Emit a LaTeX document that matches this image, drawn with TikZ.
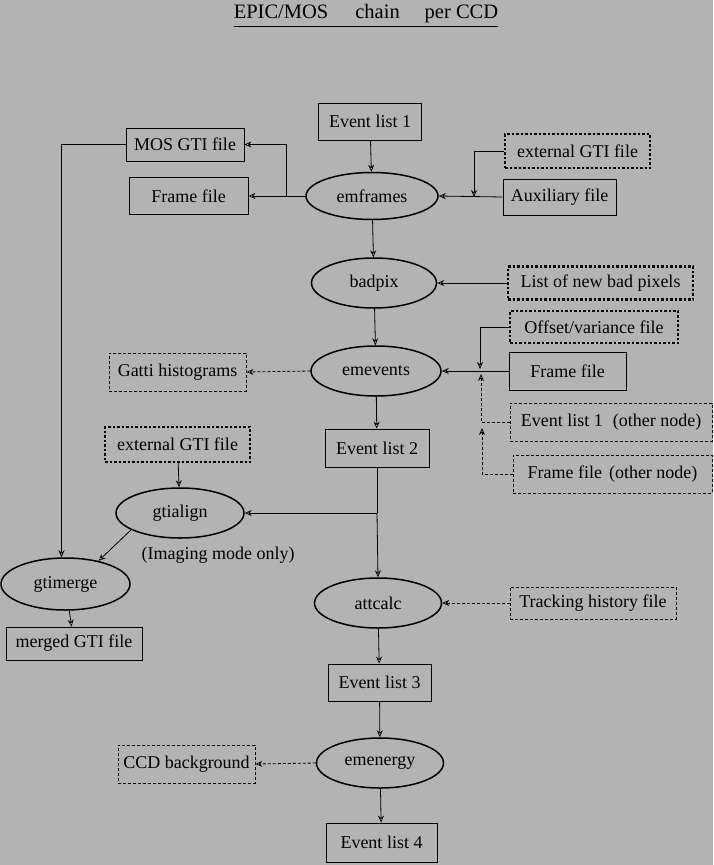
\documentclass[tikz,border=0pt]{standalone}
\usepackage{fontspec}
\setmainfont{Liberation Serif}
\usepackage{xcolor}
\usetikzlibrary{shapes.geometric,arrows.meta}
\definecolor{bggray}{RGB}{179,179,179}

\begin{document}
\begin{tikzpicture}[x=1pt,y=-1pt,
    every node/.style={font=\fontsize{18}{20}\selectfont},
    box/.style={draw,rectangle,line width=0.8pt,inner sep=0pt},
    dotbox/.style={box,line width=2.5pt,dash pattern=on 2.5pt off 2pt},
    dashbox/.style={box,dash pattern=on 3pt off 2pt},
    proc/.style={draw,ellipse,line width=1.5pt,inner sep=0pt},
    arr/.style={line width=0.8pt,-{Stealth[fill=white,length=7pt,width=6pt]}},
    darr/.style={arr,dash pattern=on 3pt off 2pt}]
        % background and frame of the page
        \fill[bggray] (0,0) rectangle (713,865);
        \useasboundingbox (0,0) rectangle (713,865);
    % title
    \node[inner sep=0pt,font=\fontsize{20.5}{22}\selectfont] (title) at (366,14) {EPIC/MOS\hspace{27pt}chain\hspace{25pt}per CCD};
    \draw[line width=0.8pt] ([yshift=-3pt]title.south west) -- ([yshift=-3pt]title.south east);
    % main column
    \node[box,minimum width=103,minimum height=37] (ev1) at (370,121.5) {Event list 1};
    \node[proc,minimum width=132,minimum height=47] (emframes) at (372,196) {emframes};
    \node[proc,minimum width=125,minimum height=50] (badpix) at (374,283) {badpix};
    \node[proc,minimum width=130,minimum height=50] (emevents) at (376,371) {emevents};
    \node[box,minimum width=104,minimum height=38] (ev2) at (377,448) {Event list 2};
    \node[proc,minimum width=127,minimum height=50] (attcalc) at (378,603) {attcalc};
    \node[box,minimum width=103,minimum height=37] (ev3) at (379.5,682.5) {Event list 3};
    \node[proc,minimum width=127,minimum height=50] (emenergy) at (380,763) {emenergy};
    \node[box,minimum width=111,minimum height=39] (ev4) at (381.5,842.5) {Event list 4};
    % left side
    \node[box,minimum width=118,minimum height=33] (mosgti) at (185,144.5) {MOS GTI file};
    \node[box,minimum width=119,minimum height=37] (frame) at (188.5,196) {Frame file};
    \node[dashbox,minimum width=137,minimum height=38] (gatti) at (177.5,372) {Gatti histograms};
    \node[dotbox,minimum width=145,minimum height=35] (extgtil) at (177.5,444.5) {external GTI file};
    \node[proc,minimum width=128,minimum height=50] (gtialign) at (180,513) {gtialign};
    \node (imaging) at (218,555) {(Imaging mode only)};
    \node[proc,minimum width=129,minimum height=52] (gtimerge) at (65.5,584) {gtimerge};
    \node[box,minimum width=136,minimum height=33] (mergedgti) at (74,643.5) {merged GTI file};
    \node[dashbox,minimum width=137,minimum height=38] (ccdbkg) at (186.5,764) {CCD background};
    % right side
    \node[dotbox,minimum width=145,minimum height=34] (extgti) at (577.5,151) {external GTI file};
    \node[box,minimum width=113,minimum height=36] (aux) at (559.5,197) {Auxiliary file};
    \node[dotbox,minimum width=185,minimum height=33] (badlist) at (600.5,283) {List of new bad pixels};
    \node[dotbox,minimum width=168,minimum height=32] (offset) at (594,327) {Offset/variance file};
    \node[box,minimum width=117,minimum height=38] (framer) at (567.5,371) {Frame file};
    \node[dashbox,minimum width=202,minimum height=38] (ev1o) at (611,422) {Event list 1\hspace{10pt}(other node)};
    \node[dashbox,minimum width=199,minimum height=38] (frameo) at (612.5,474) {Frame file\hspace{7pt}(other node)};
    \node[dashbox,minimum width=166,minimum height=32] (track) at (593,603) {Tracking history file};
    % join points
    \coordinate (jmos) at (286,196);
    \coordinate (jaux) at (474,197);
    \coordinate (joff) at (480,369);
    \coordinate (jev) at (481,374);
    \coordinate (jfr) at (482,428);
    \coordinate (jev2) at (377,513);
    % connectors
    \draw[arr] (ev1) -- (emframes);
    \draw[arr] (emframes.west) -- (frame.east);
    \draw[arr] (jmos) |- (mosgti.east);
    \draw[arr] (aux.west) -- (emframes.east);
    \draw[arr] (extgti.west) -| (jaux);
    \draw[arr] (emframes) -- (badpix);
    \draw[arr] (badlist.west) -- (badpix.east);
    \draw[arr] (badpix) -- (emevents);
    \draw[arr] (framer.west) -- (emevents.east);
    \draw[arr] (offset.west) -| (joff);
    \draw[darr] (ev1o.west) -| (jev);
    \draw[darr] (frameo.west) -| (jfr);
    \draw[darr] (emevents.west) -- (gatti.east);
    \draw[arr] (emevents) -- (ev2);
    \draw[line width=0.8pt] (ev2.south) -- (jev2);
    \draw[arr] (jev2) -- (gtialign.east);
    \draw[arr] (jev2) -- (attcalc.north);
    \draw[arr] (extgtil) -- (gtialign);
    \draw[arr] (gtialign.199) -- (gtimerge.35);
    \draw[arr] (mosgti.west) -| ([xshift=-4pt]gtimerge.north);
    \draw[arr] (gtimerge) -- (mergedgti);
    \draw[darr] (track.west) -- (attcalc.east);
    \draw[arr] (attcalc) -- (ev3);
    \draw[arr] (ev3) -- (emenergy);
    \draw[darr] (emenergy.west) -- (ccdbkg.east);
    \draw[arr] (emenergy) -- (ev4);
\end{tikzpicture}
\end{document}
